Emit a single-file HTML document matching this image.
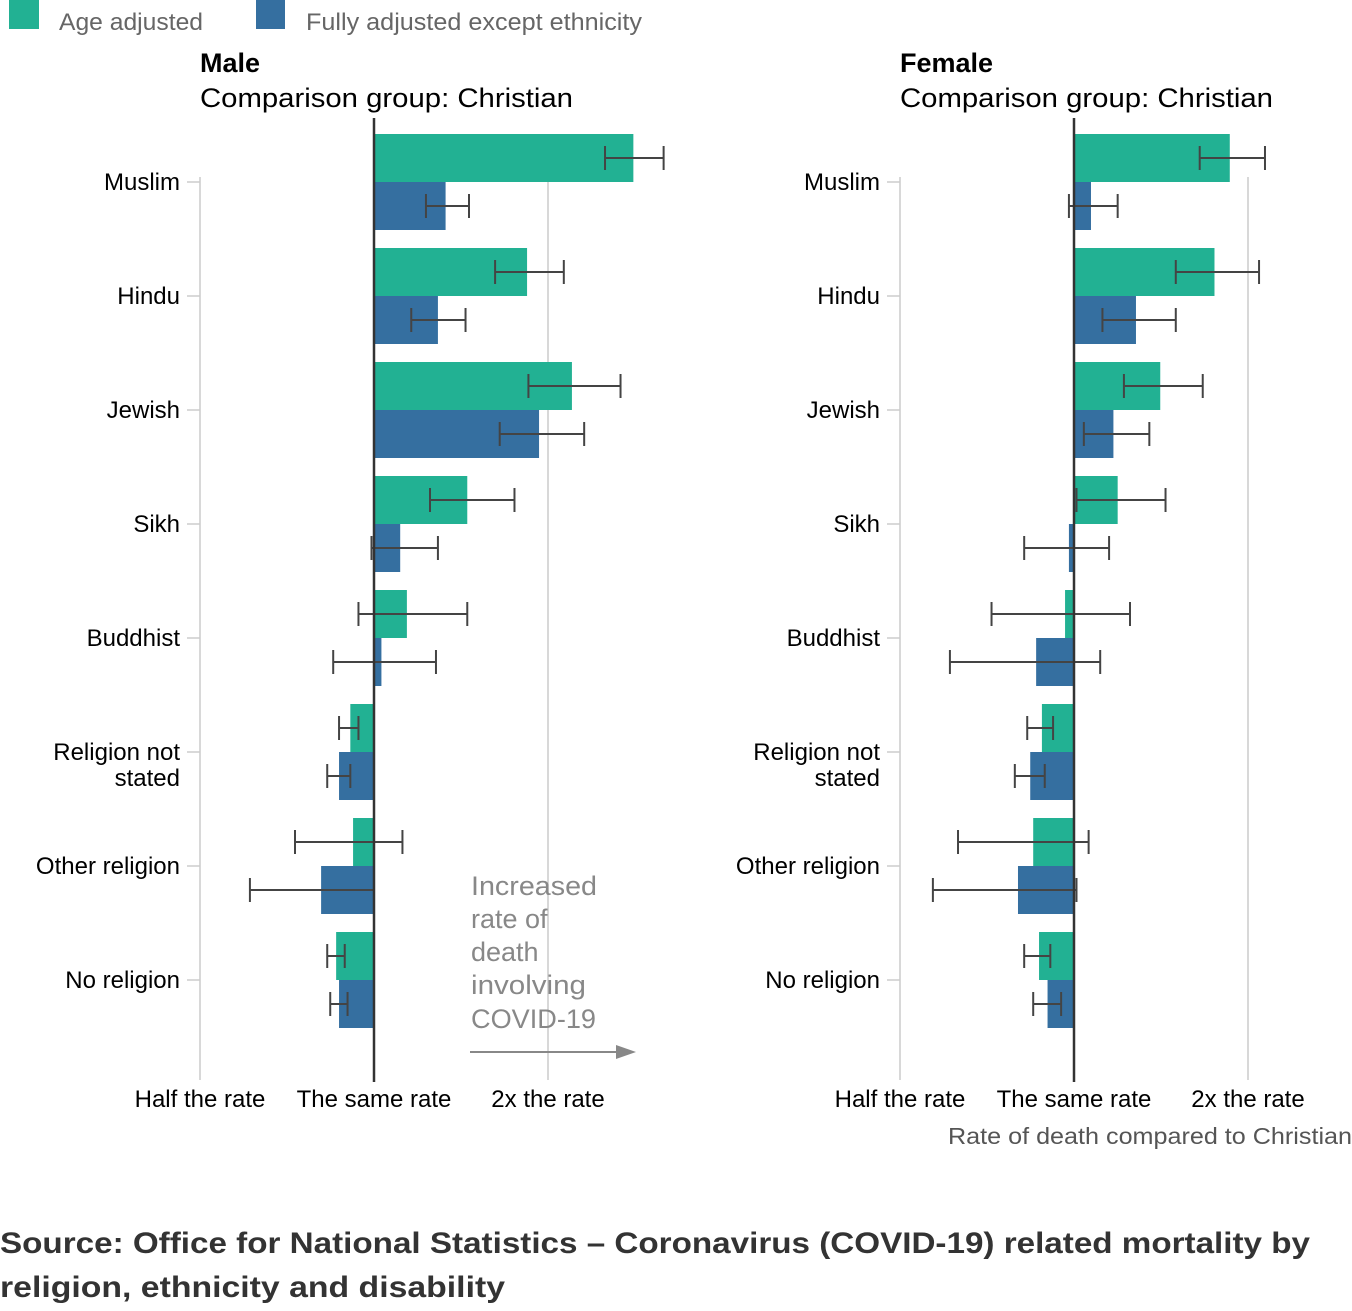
<!DOCTYPE html>
<html><head><meta charset="utf-8"><style>
body{margin:0;background:#fff;width:1352px;height:1306px;overflow:hidden;font-family:"Liberation Sans",sans-serif}
svg text{font-family:"Liberation Sans",sans-serif}
</style></head><body>
<svg id="chart" width="1352" height="1306" viewBox="0 0 1352 1306" xmlns="http://www.w3.org/2000/svg">
<g>
<rect x="9" y="0" width="30" height="29" fill="#22b193"/>
<text x="59" y="30" font-size="24" fill="#666" textLength="144" lengthAdjust="spacingAndGlyphs">Age adjusted</text>
<rect x="256" y="0" width="29" height="29" fill="#356fa0"/>
<text x="306" y="30" font-size="24" fill="#666" textLength="336" lengthAdjust="spacingAndGlyphs">Fully adjusted except ethnicity</text>
</g>
<g id="panels"></g>
<g>
<text x="471" y="895" font-size="27" fill="#888" textLength="126" lengthAdjust="spacingAndGlyphs">Increased</text>
<text x="471" y="928" font-size="27" fill="#888">rate of</text>
<text x="471" y="961" font-size="27" fill="#888">death</text>
<text x="471" y="994" font-size="27" fill="#888" textLength="115" lengthAdjust="spacingAndGlyphs">involving</text>
<text x="471" y="1028" font-size="27" fill="#888" textLength="125" lengthAdjust="spacingAndGlyphs">COVID-19</text>
<line x1="470" y1="1052" x2="620" y2="1052" stroke="#888" stroke-width="2"/>
<polygon points="636,1052 616,1045 616,1059" fill="#888"/>
</g>
<text x="1352" y="1144" text-anchor="end" font-size="23" fill="#555" textLength="404" lengthAdjust="spacingAndGlyphs">Rate of death compared to Christian</text>
<text x="0" y="1253" font-size="30" font-weight="bold" fill="#333" textLength="1310" lengthAdjust="spacingAndGlyphs">Source: Office for National Statistics – Coronavirus (COVID-19) related mortality by</text>
<text x="0" y="1297" font-size="30" font-weight="bold" fill="#333" textLength="505" lengthAdjust="spacingAndGlyphs">religion, ethnicity and disability</text>
</svg>
<script>
const categories=["Muslim","Hindu","Jewish","Sikh","Buddhist","Religion not|stated","Other religion","No religion"];
const tickLabels=["Half the rate","The same rate","2x the rate"];
const tickValues=[0.5,1,2];
const maleAge=[2.81,1.84,2.20,1.45,1.14,0.91,0.92,0.86];
const maleAgeLo=[2.51,1.62,1.85,1.25,0.94,0.87,0.73,0.83];
const maleAgeHi=[3.17,2.13,2.67,1.75,1.45,0.94,1.12,0.89];
const maleFull=[1.33,1.29,1.93,1.11,1.03,0.87,0.81,0.87];
const maleFullLo=[1.23,1.16,1.65,0.99,0.85,0.83,0.61,0.84];
const maleFullHi=[1.46,1.44,2.31,1.29,1.28,0.91,1.00,0.90];
const femAge=[1.86,1.75,1.41,1.19,0.965,0.88,0.85,0.87];
const femAgeLo=[1.65,1.50,1.22,1.01,0.72,0.83,0.63,0.82];
const femAgeHi=[2.14,2.09,1.67,1.44,1.25,0.92,1.06,0.91];
const femFull=[1.07,1.28,1.17,0.98,0.86,0.84,0.80,0.90];
const femFullLo=[0.98,1.12,1.04,0.82,0.61,0.79,0.57,0.85];
const femFullHi=[1.19,1.50,1.35,1.15,1.11,0.89,1.01,0.95];

const NS="http://www.w3.org/2000/svg";
const root=document.getElementById('panels');
function mk(tag,attrs,parent){const e=document.createElementNS(NS,tag);for(const k in attrs)e.setAttribute(k,attrs[k]);parent.appendChild(e);return e;}
function drawPanel(title,cx,age,ageLo,ageHi,full,fullLo,fullHi,key){
  const g=mk('g',{},root);
  
  
  const x=v=>cx+174*Math.log2(v);
  const y=i=>182+114*i;
  const t1=mk('text',{x:cx-174,y:72,'font-size':27,'font-weight':'bold',fill:'#000'},g);t1.textContent=title;
  
  
  const t2=mk('text',{x:cx-174,y:107,'font-size':27,fill:'#000',textLength:373,lengthAdjust:'spacingAndGlyphs'},g);t2.textContent='Comparison group: Christian';
  
  
  tickValues.forEach((v,i)=>{
    if(v!==1){const l=mk('line',{x1:x(v),x2:x(v),y1:177,y2:1080,stroke:'#ccc','stroke-width':1.5},g);
      
      }
    const t=mk('text',{x:x(v),y:1107,'font-size':24,'text-anchor':'middle',fill:'#000'},g);t.textContent=tickLabels[i];
    
    
  });
  categories.forEach((c,i)=>{
    const tk=mk('line',{x1:x(0.5)-13,x2:x(0.5),y1:y(i),y2:y(i),stroke:'#ccc','stroke-width':1.5},g);
    
    
    const parts=c.split('|');
    parts.forEach((p,j)=>{
      const t=mk('text',{x:x(0.5)-20,y:y(i)+8+j*26,'font-size':24,'text-anchor':'end',fill:'#000'},g);t.textContent=p;
      
      
    });
    [[age,ageLo,ageHi,'#22b193',y(i)-48,'age'],[full,fullLo,fullHi,'#356fa0',y(i),'fully']].forEach(([d,lo,hi,col,top,s])=>{
      const a=x(d[i]),b=x(1);
      const r=mk('rect',{x:Math.min(a,b),y:top,width:Math.abs(a-b),height:48,fill:col},g);
      
      
      const m=top+24,l=x(lo[i]),h=x(hi[i]);
      const eb=mk('g',{stroke:'#444','stroke-width':2},g);
      
      
      mk('line',{x1:l,x2:h,y1:m,y2:m},eb);
      mk('line',{x1:l,x2:l,y1:m-12,y2:m+12},eb);
      mk('line',{x1:h,x2:h,y1:m-12,y2:m+12},eb);
    });
  });
  const ax=mk('line',{x1:x(1),x2:x(1),y1:118,y2:1082,stroke:'#333','stroke-width':2.5},g);
  
  
}
drawPanel('Male',374,maleAge,maleAgeLo,maleAgeHi,maleFull,maleFullLo,maleFullHi,'male');
drawPanel('Female',1074,femAge,femAgeLo,femAgeHi,femFull,femFullLo,femFullHi,'female');
</script>
</body></html>
